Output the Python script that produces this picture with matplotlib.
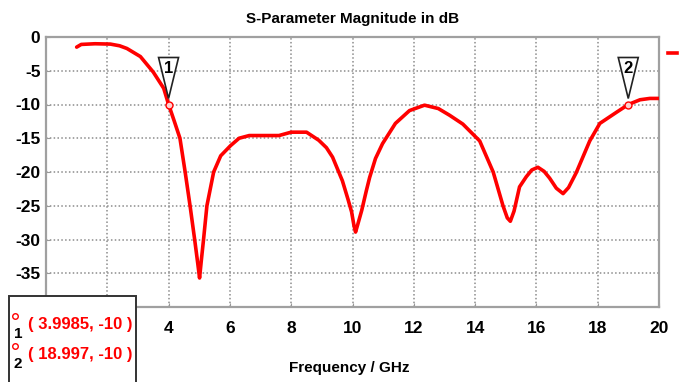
import matplotlib
matplotlib.use("Agg")
import matplotlib.pyplot as plt
import matplotlib.transforms as mtransforms
from matplotlib.patches import Polygon, Rectangle
from matplotlib.lines import Line2D

# S11 curve (GHz, dB)
freq = [1.0, 1.15, 1.6, 2.1, 2.4, 2.64, 3.08, 3.5, 3.84, 4.0, 4.18, 4.37,
        4.54, 4.7, 4.85, 4.95, 5.01, 5.07, 5.14, 5.25, 5.47, 5.7, 6.02, 6.3,
        6.63, 7.0, 7.6, 8.0, 8.5, 8.9, 9.15, 9.35, 9.67, 9.85, 9.97, 10.05,
        10.1, 10.17, 10.3, 10.45, 10.56, 10.75, 10.98, 11.4, 11.86, 12.35,
        12.8, 13.17, 13.6, 14.15, 14.59, 14.91, 15.05, 15.15, 15.27, 15.45,
        15.67, 15.85, 16.05, 16.25, 16.43, 16.65, 16.87, 17.05, 17.3, 17.74,
        18.07, 18.63, 19.0, 19.38, 19.7, 20.0]
s11_db = [-1.5, -1.1, -1.0, -1.05, -1.3, -1.7, -2.9, -5.2, -7.6, -10.0,
          -12.4, -15.0, -20.0, -25.0, -30.0, -33.5, -35.7, -33.0, -30.0, -25.0,
          -20.0, -17.6, -16.1, -15.0, -14.6, -14.6, -14.6, -14.1, -14.1, -15.3,
          -16.4, -17.8, -21.3, -24.0, -25.9, -28.0, -28.9, -27.8, -25.7, -22.8,
          -20.8, -18.0, -15.8, -12.8, -10.9, -10.1, -10.6, -11.6, -12.9, -15.4,
          -20.0, -25.0, -26.8, -27.3, -25.8, -22.2, -20.7, -19.7, -19.3, -19.9,
          -20.9, -22.4, -23.2, -22.3, -20.1, -15.4, -12.8, -11.1, -10.0, -9.3,
          -9.1, -9.1]

marker_ids = ["1", "2"]
marker_x = [3.9985, 18.997]
marker_y = [-10, -10]

x_ticks = [4, 6, 8, 10, 12, 14, 16, 18, 20]
y_ticks = [0, -5, -10, -15, -20, -25, -30, -35]

RED = "#ff0000"
plt.rcParams["font.family"] = ["Liberation Sans", "DejaVu Sans"]
plt.rcParams["axes.unicode_minus"] = False

fig = plt.figure(figsize=(6.84, 3.82), dpi=100)
ax = fig.add_axes([46 / 684, 1 - 307 / 382, 613 / 684, 270 / 382])

ax.plot(freq, s11_db, color=RED, lw=2.6, solid_capstyle="round",
        solid_joinstyle="round", zorder=3)
ax.set_xlim(0, 20)
ax.set_ylim(-40, 0)
ax.set_xticks(x_ticks)
ax.set_yticks(y_ticks)
ax.set_xticks(range(0, 21, 2), minor=True)
ax.grid(True, which="both", color="#8c8c8c", ls=(0, (1, 1.5)), lw=1.1)
ax.tick_params(which="both", length=3, direction="in", color="#999999",
               labelsize=12.5)
ax.tick_params(axis="x", pad=10)
ax.tick_params(axis="y", pad=4)
for lab in ax.get_xticklabels() + ax.get_yticklabels():
    lab.set_fontweight("bold")
for sp in ax.spines.values():
    sp.set_color("#a0a0a0")
    sp.set_linewidth(1.6)

ax.set_title("S-Parameter Magnitude in dB", fontsize=11, fontweight="bold",
             pad=10)
ax.set_xlabel("Frequency / GHz", fontsize=11, fontweight="bold")
ax.xaxis.set_label_coords(0.495, -0.2)

# marker flags (triangles) above each marker point
for mid, mx, my in zip(marker_ids, marker_x, marker_y):
    off = fig.dpi_scale_trans + mtransforms.ScaledTranslation(mx, my, ax.transData)
    tri = Polygon([(0, 0.06), (-0.10, 0.47), (0.10, 0.47)], closed=True,
                  facecolor="white", edgecolor="#222222", lw=1.2,
                  transform=off, zorder=4)
    ax.add_patch(tri)
    ax.text(0, 0.36, mid, transform=off, ha="center", va="center",
            fontsize=12, fontweight="bold", zorder=5)
    ax.plot(mx, my, "o", ms=5, mfc="#ffd0d0", mec=RED, mew=1.0, zorder=6)

# marker readout box (bottom left)
fig.patches.append(Rectangle((9 / 684, -0.05), 127 / 684, 0.05 + 1 - 296 / 382,
                             transform=fig.transFigure, facecolor="white",
                             edgecolor="#333333", lw=1.4, zorder=10))
for i, (mid, mx, my) in enumerate(zip(marker_ids, marker_x, marker_y)):
    yc = 1 - (324 + 30 * i) / 382
    fig.text(28 / 684, yc, f"( {mx:g}, {my:g} )", color=RED, fontsize=12,
             fontweight="bold", ha="left", va="center", zorder=11)
    fig.lines.append(Line2D([15 / 684], [yc + 8 / 382], marker="o", ms=4,
                            mfc="none", mec=RED, mew=1, ls="none",
                            transform=fig.transFigure, zorder=11))
    fig.text(18 / 684, yc - 10 / 382, mid, color="black", fontsize=11,
             fontweight="bold", ha="center", va="center", zorder=11)

# clipped legend line at right edge
fig.lines.append(Line2D([668 / 684, 677 / 684], [1 - 53 / 382, 1 - 53 / 382],
                        color=RED, lw=2.6, transform=fig.transFigure))

fig.savefig("out.png", dpi=100)
